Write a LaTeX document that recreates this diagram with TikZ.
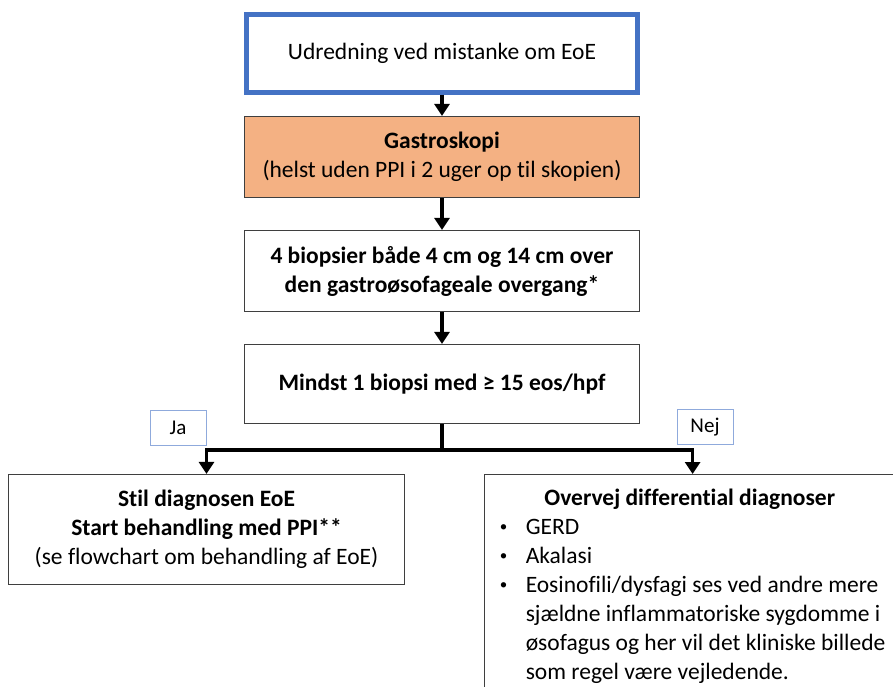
\documentclass[tikz,border=0pt]{standalone}
\usepackage{fontspec}
\setmainfont{Carlito}[Ligatures=NoCommon]
\usetikzlibrary{arrows.meta}
\definecolor{frameblue}{HTML}{4472C4}
\definecolor{tagblue}{HTML}{8FAADC}
\definecolor{scopeorange}{HTML}{F4B183}
\definecolor{edgegray}{HTML}{3F3F3F}
\newcommand{\bulletmark}{\makebox[26pt][l]{\raisebox{2.5pt}{\fontsize{15}{15}\selectfont\textbullet}}}

\begin{document}
\begin{tikzpicture}[x=1pt, y=-1pt, >={Triangle[length=12pt,width=15pt]},
  box/.style={draw=edgegray, line width=1.2pt, align=center, inner sep=0pt,
    font=\fontsize{23.5}{29}\selectfont},
  tag/.style={draw=tagblue, line width=1pt, minimum width=56pt, minimum height=35pt,
    inner sep=0pt, font=\fontsize{21}{24}\selectfont},
  conn/.style={line width=3.5pt}]
  \useasboundingbox (0,0) rectangle (893,687);
  \clip (0,0) rectangle (893,687);

  \node[box, draw=frameblue, line width=4.5pt, minimum width=391pt, minimum height=78pt]
    (udred) at (442,53.5) {Udredning ved mistanke om EoE};
  \node[box, fill=scopeorange, minimum width=395pt, minimum height=81pt]
    (gastro) at (442,157) {\textbf{Gastroskopi}\\(helst uden PPI i 2 uger op til skopien)};
  \node[box, minimum width=395pt, minimum height=81pt, font=\fontsize{23.5}{29}\selectfont\bfseries]
    (biop) at (442,271) {4 biopsier både 4 cm og 14 cm over\\den gastroøsofageale overgang*};
  \node[box, minimum width=395pt, minimum height=79pt, font=\fontsize{23.5}{29}\selectfont\bfseries]
    (mindst) at (442,384) {Mindst 1 biopsi med ≥ 15 eos/hpf};

  \node[tag] (ja) at (178,427.5) {Ja};
  \node[tag] (nej) at (705,427) {Nej};

  \node[box, minimum width=396pt, minimum height=110pt]
    (stil) at (206.5,529.5) {\textbf{Stil diagnosen EoE}\\\textbf{Start behandling med PPI**}\\(se flowchart om behandling af EoE)};
  \node[box, anchor=north west, align=left, inner xsep=12pt, inner ysep=14pt, minimum width=416pt]
    (diff) at (484,474) {\makebox[380pt]{\bfseries Overvej differential diagnoser}\\
      \bulletmark GERD\\
      \bulletmark Akalasi\\
      \bulletmark Eosinofili/dysfagi ses ved andre mere\\
      \hspace*{26pt}sjældne inflammatoriske sygdomme i\\
      \hspace*{26pt}øsofagus og her vil det kliniske billede\\
      \hspace*{26pt}som regel være vejledende.};

  \draw[conn, ->] (udred) -- (gastro);
  \draw[conn, ->] (gastro) -- (biop);
  \draw[conn, ->] (biop) -- (mindst);
  \draw[conn] (mindst) -- (442,450) coordinate (split);
  \draw[conn, ->] (split) -| (stil.north);
  \draw[conn, ->] (split) -| (diff.north);
\end{tikzpicture}
\end{document}
